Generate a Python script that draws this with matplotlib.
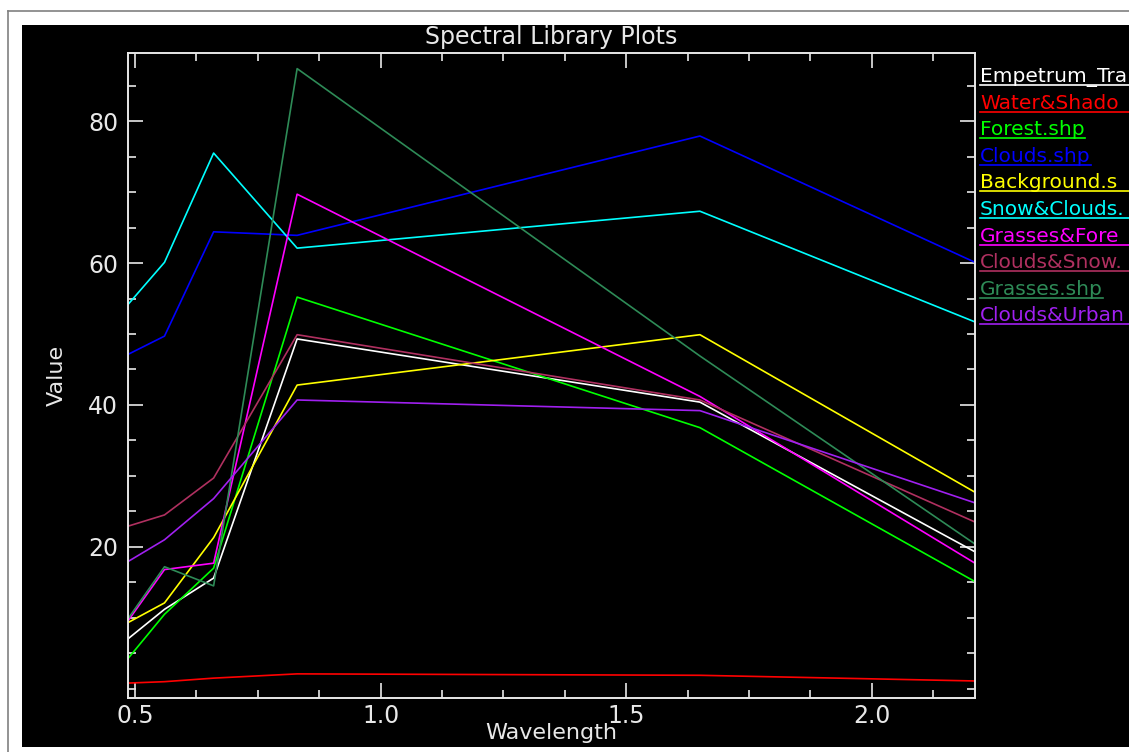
import numpy as np
import matplotlib
matplotlib.use('Agg')
from matplotlib import pyplot as plt
from matplotlib.patches import Rectangle
from matplotlib.lines import Line2D
from matplotlib.ticker import MultipleLocator

W, H = 1129, 752

# wavelengths (um) of the library samples
wavelength = [0.485, 0.56, 0.66, 0.83, 1.65, 2.21]

empetrum = [7.0, 11.2, 15.6, 49.3, 40.4, 19.3]
water_shadow = [0.8, 1.0, 1.5, 2.1, 1.9, 1.1]
forest = [4.2, 10.5, 17.0, 55.2, 36.8, 15.1]
clouds = [47.1, 49.7, 64.4, 63.9, 77.9, 60.1]
background = [9.3, 12.1, 21.3, 42.8, 49.9, 27.7]
snow_clouds = [54.1, 60.1, 75.5, 62.1, 67.3, 51.7]
grasses_forest = [9.5, 16.8, 17.7, 69.7, 41.2, 17.7]
clouds_snow = [22.9, 24.5, 29.7, 49.9, 40.7, 23.5]
grasses = [9.8, 17.2, 14.5, 87.4, 46.9, 20.4]
clouds_urban = [17.9, 21.0, 26.8, 40.7, 39.2, 26.2]

# legend names as far as they are visible in the window (the rest runs off the edge)
names = ['Empetrum_Tra', 'Water&Shado', 'Forest.shp', 'Clouds.shp',
         'Background.s', 'Snow&Clouds.', 'Grasses&Fore',
         'Clouds&Snow.', 'Grasses.shp', 'Clouds&Urban']
cut = [True, True, False, False, True, True, True, True, False, True]
series = [empetrum, water_shadow, forest, clouds, background, snow_clouds,
          grasses_forest, clouds_snow, grasses, clouds_urban]
colors = ['#ffffff', '#ff0000', '#00ff00', '#0000ff', '#ffff00', '#00ffff',
          '#ff00ff', '#b03060', '#2e8b57', '#a020f0']

fig = plt.figure(figsize=(W / 100, H / 100), dpi=100, facecolor='white')

# black plot window and grey frame
fig.patches.append(Rectangle((22 / W, 5 / H), 1, (747 - 25) / H,
                             transform=fig.transFigure, facecolor='black',
                             edgecolor='none', zorder=-10))
fig.lines.append(Line2D([8 / W, 8 / W], [0, 1 - 11 / H], transform=fig.transFigure,
                        color='#808080', lw=1.2, zorder=-10))
fig.lines.append(Line2D([8 / W, 1], [1 - 11 / H, 1 - 11 / H], transform=fig.transFigure,
                        color='#808080', lw=1.2, zorder=-10))

ax = fig.add_axes([128 / W, 1 - 698 / H, (975 - 128) / W, (698 - 53) / H])
ax.set_facecolor('black')

for y, c in zip(series, colors):
    ax.plot(wavelength, y, color=c, lw=1.2)

ax.set_xlim(0.4857, 2.21)
ax.set_ylim(-1.3, 89.6)
ax.xaxis.set_major_locator(MultipleLocator(0.5))
ax.xaxis.set_minor_locator(MultipleLocator(0.125))
ax.yaxis.set_major_locator(MultipleLocator(20))
ax.yaxis.set_minor_locator(MultipleLocator(5))
ax.set_xticks([0.5, 1.0, 1.5, 2.0])
ax.set_xticklabels(['0.5', '1.0', '1.5', '2.0'])
ax.set_yticks([20, 40, 60, 80])

for s in ax.spines.values():
    s.set_color('#e8e8e8')
    s.set_linewidth(1.4)
ax.tick_params(which='both', direction='in', top=True, right=True,
               colors='#e8e8e8', labelcolor='#e8e8e8', labelsize=17)
ax.tick_params(which='major', length=11, width=1.2)
ax.tick_params(which='minor', length=6, width=1.2)
ax.tick_params(axis='x', pad=4)
ax.tick_params(axis='y', pad=7)

ax.text(0.5, 1.025, 'Spectral Library Plots', transform=ax.transAxes,
        ha='center', va='center', color='#e8e8e8', fontsize=17)
ax.set_xlabel('Wavelength', color='#e8e8e8', fontsize=16)
ax.xaxis.set_label_coords(0.5, -0.054)
ax.xaxis.label.set_va('center')
ax.set_ylabel('Value', color='#e8e8e8', fontsize=16)
ax.yaxis.set_label_coords(-0.084, 0.5)
ax.yaxis.label.set_va('center')

# legend: coloured, underlined names to the right of the plot
renderer = fig.canvas.get_renderer()
for i, (n, c) in enumerate(zip(names, colors)):
    yb = 82 + 26.6 * i
    t = fig.text(980 / W, 1 - yb / H, n, color=c, fontsize=14.5,
                 ha='left', va='baseline')
    bb = t.get_window_extent(renderer)
    x_end = 1.0 if cut[i] else bb.x1 / W
    yu = 1 - (yb + 3) / H
    fig.lines.append(Line2D([980 / W, x_end], [yu, yu], transform=fig.transFigure,
                            color=c, lw=1.2))

fig.savefig('out.png', dpi=100, facecolor='white')
